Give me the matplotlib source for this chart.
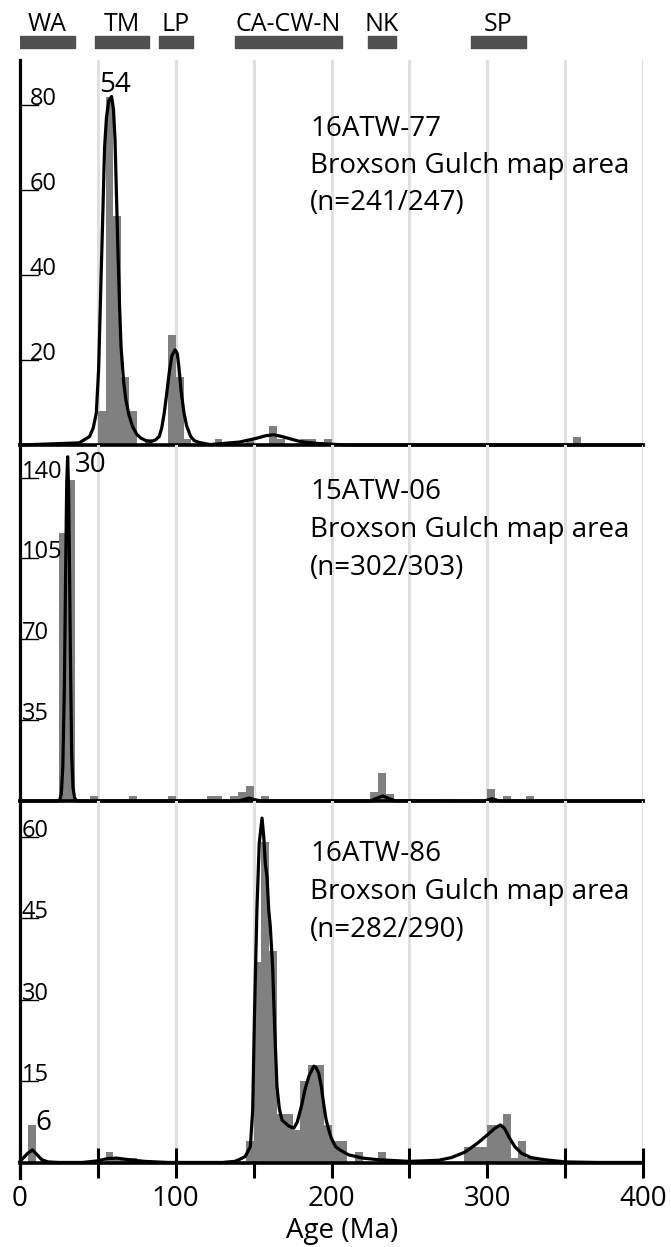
import matplotlib.pyplot as plt
from matplotlib.lines import Line2D

plt.rcParams['font.family'] = ['Open Sans', 'DejaVu Sans']

W, H = 671, 1247
X0, X1 = 20, 643  # pixel span of 0..400 Ma

# ---- data ----
ranges = ["WA", "TM", "LP", "CA-CW-N", "NK", "SP"]
range_start = [0, 48, 89, 138, 223.5, 289.5]
range_end = [35, 83, 111, 206.5, 241.5, 324.7]

names = ["16ATW-77", "15ATW-06", "16ATW-86"]
area = "Broxson Gulch map area"
ns = ["(n=241/247)", "(n=302/303)", "(n=282/290)"]

bin_width = 5
p1_bins = [50, 55, 60, 65, 70, 80, 95, 100, 105, 125, 145, 160, 165, 180, 185, 195, 355]
p1_counts = [8, 82, 54, 16, 8, 1.5, 26, 16, 1.5, 1.5, 1.5, 4.5, 1.5, 1.5, 1.5, 1.5, 2]
p1_age = [0, 38, 44.7, 47, 49, 50.5, 52, 53, 54.3, 55.5, 57, 58.8, 60, 61, 62, 62.8, 64,
          64.9, 66.5, 68, 70, 72.3, 75, 77.7, 81, 84, 87, 89.4, 91, 92.6, 94, 95.8, 97.5,
          99.6, 101, 102, 103.5, 105.3, 107, 109.6, 112, 115, 122, 141, 152, 158, 162.6,
          167, 172, 180, 190, 199, 210, 400]
p1_pdf = [0, 0.5, 2, 4, 7.5, 18, 38.8, 52, 70, 77, 81, 82, 79, 72, 58, 46.7, 32,
          23, 15, 10.6, 7, 4.3, 2.5, 1.6, 1, 0.8, 1.2, 2, 4, 7.5, 11.5, 17, 21,
          22.4, 21.5, 18.4, 12.5, 7.5, 4.5, 2, 1, 0.6, 0.1, 0.7, 1.6, 2.2, 2.4,
          2.1, 1.6, 0.8, 0.4, 0.2, 0, 0]

p2_bins = [25, 30, 45, 70, 95, 120, 125, 135, 140, 145, 155, 225, 230, 235, 300, 310, 325]
p2_counts = [116, 139, 2, 2, 2, 2, 2, 2, 4, 6.5, 2, 4, 12, 3, 5, 2, 2]
p2_age = [0, 24, 25.5, 26.5, 27.5, 28.5, 29.3, 30, 30.6, 31.2, 31.8, 32.5, 33.2, 34, 35,
          36, 38, 140, 143, 147, 151, 155, 225, 229, 233, 237, 241, 298, 303, 308, 400]
p2_pdf = [0, 0, 0.5, 3, 15, 50, 100, 138, 149, 135, 100, 55, 20, 6, 1.5,
          0.3, 0, 0, 0.5, 1.3, 0.5, 0, 0, 1.2, 2.2, 1.0, 0.1, 0, 1.0, 0, 0]

p3_bins = [5, 55, 60, 65, 70, 145, 150, 155, 160, 165, 170, 175, 180, 185, 190, 195, 200,
           205, 215, 230, 285, 290, 295, 300, 305, 310, 315, 320, 325, 330]
p3_counts = [7, 2, 1, 1, 1, 4, 37, 59, 39, 9, 9, 6, 15, 18, 18, 7, 4,
             4, 2, 2, 3, 3, 3, 7, 7, 9, 1, 4, 1, 1]
p3_age = [0, 2, 5, 8, 11, 14, 18, 25, 40, 50, 56, 62, 70, 80, 95, 130, 138, 142, 144.6,
          147.9, 149.4, 150.6, 152.1, 153.6, 155.4, 156.5, 157.5, 158.6, 159.7, 160.7,
          162.2, 163.5, 165, 166.5, 168.2, 172.5, 175.8, 178, 181, 183, 185.4, 188.6,
          190, 191.8, 193.5, 195, 196.5, 198.3, 200, 202.6, 206, 211, 220, 230, 250,
          260, 268.7, 277, 285.7, 294, 300.6, 305, 308.5, 311, 314.5, 317.7, 322, 328,
          337, 350, 370, 400]
p3_pdf = [0.3, 0.9, 1.8, 2.4, 1.5, 0.6, 0.2, 0.1, 0.1, 0.4, 0.8, 0.9, 0.6, 0.3, 0.1, 0.1,
          0.3, 0.8, 1.2, 3, 9.7, 28, 46.5, 58.8, 63.4, 60, 55, 52.6, 46.5, 43.5,
          36, 25, 14, 10, 7.9, 6.8, 6.4, 7.5, 10.8, 13.5, 15.9, 17.8,
          17.6, 16.5, 14, 10.8, 8, 6, 4.5, 3, 2.3, 1.5, 0.9, 0.6, 0.3,
          0.4, 0.5, 1.0, 2.0, 3.7, 5.3, 6.4, 7.0, 6.4, 4.5, 3.0, 1.8, 1.0,
          0.6, 0.2, 0.1, 0.1]

p1_ticks = [20, 40, 60, 80]
p2_ticks = [35, 70, 105, 140]
p3_ticks = [15, 30, 45, 60]
x_labels = [0, 100, 200, 300, 400]
x_ticks = [0, 50, 100, 150, 200, 250, 300, 350, 400]

peak_labels = [("54", 59, 82), ("30", 30.6, 149), ("6", 8, 2.4)]

# ---- layout (pixels) ----
panels = [
    dict(top=60, base=445, scale=4.25, bins=p1_bins, counts=p1_counts, age=p1_age,
         pdf=p1_pdf, ticks=p1_ticks, lab_x=30, txt_y=[136, 173, 210]),
    dict(top=445, base=801, scale=2.31, bins=p2_bins, counts=p2_counts, age=p2_age,
         pdf=p2_pdf, ticks=p2_ticks, lab_x=22, txt_y=[499, 537, 575]),
    dict(top=801, base=1163, scale=5.44, bins=p3_bins, counts=p3_counts, age=p3_age,
         pdf=p3_pdf, ticks=p3_ticks, lab_x=22, txt_y=[861, 899, 937]),
]

fig = plt.figure(figsize=(W / 100, H / 100), dpi=100)


def fx(px):
    return px / W


def fy(py):
    return 1 - py / H


axes = []
for i, p in enumerate(panels):
    ax = fig.add_axes([fx(X0), fy(p["base"]), fx(X1) - fx(X0), (p["base"] - p["top"]) / H])
    ax.set_xlim(0, 400)
    ax.set_ylim(0, (p["base"] - p["top"]) / p["scale"])
    for s in ax.spines.values():
        s.set_visible(False)
    ax.set_xticks([])
    ax.set_yticks([])
    ax.patch.set_alpha(0)
    for g in x_ticks[1:]:
        ax.axvline(g, color="#e0e0e0", lw=2.2, zorder=0)
    ax.bar(p["bins"], p["counts"], width=bin_width, align="edge", color="#808080",
           linewidth=0, zorder=2)
    ax.plot(p["age"], p["pdf"], color="black", lw=2.3, zorder=4,
            solid_joinstyle="round", clip_on=False)
    ax.axhline(0, color="black", lw=2.6, zorder=5, clip_on=False)
    # y ticks: underline + label
    ytr = ax.get_yaxis_transform()
    for t in p["ticks"]:
        ax.plot([(21 - X0) / (X1 - X0), (38 - X0) / (X1 - X0)], [t, t], color="black",
                lw=1.0, transform=ytr, zorder=6, clip_on=False)
        ax.text((p["lab_x"] - X0) / (X1 - X0), t, str(t), transform=ytr, fontsize=17,
                ha="left", va="baseline", zorder=6)
    # sample text
    for line, yy in zip([names[i], area, ns[i]], p["txt_y"]):
        fig.text(fx(310), fy(yy), line, fontsize=20, ha="left", va="baseline")
    axes.append(ax)

# peak labels
lab, a, v = peak_labels[0]
axes[0].annotate(lab, (a, v), xytext=(2, -2), textcoords="offset points", ha="center",
                 va="bottom", fontsize=20)
lab, a, v = peak_labels[1]
axes[1].annotate(lab, (a, v), xytext=(5, 4), textcoords="offset points", ha="left",
                 va="top", fontsize=20)
lab, a, v = peak_labels[2]
axes[2].annotate(lab, (a, v), xytext=(2, 9), textcoords="offset points", ha="left",
                 va="bottom", fontsize=20)

# bottom axis ticks and labels
ax3 = axes[2]
ax3.set_xticks(x_ticks)
ax3.set_xticklabels([])
ax3.tick_params(axis="x", direction="inout", length=21, width=2.2, color="black")
xtr = ax3.get_xaxis_transform()
ylab = (panels[2]["base"] - 1206) / (panels[2]["base"] - panels[2]["top"])
for t in x_labels:
    ax3.text(t, ylab, str(t), transform=xtr, ha="center", va="baseline", fontsize=20)
fig.text(fx(342), fy(1238), "Age (Ma)", ha="center", va="baseline", fontsize=20)

# left axis line
fig.add_artist(Line2D([fx(X0), fx(X0)], [fy(60), fy(1178)], color="black", lw=2.3,
                      transform=fig.transFigure))

# top range bars
axt = fig.add_axes([fx(X0), fy(60), fx(X1) - fx(X0), 60 / H])
axt.set_xlim(0, 400)
axt.set_ylim(60, 0)
axt.axis("off")
axt.broken_barh([(s, e - s) for s, e in zip(range_start, range_end)], (36, 12),
                color="#505050")
for r, s, e in zip(ranges, range_start, range_end):
    axt.text((s + e) / 2, 31, r, ha="center", va="baseline", fontsize=18)

fig.savefig("out.png", dpi=100)
